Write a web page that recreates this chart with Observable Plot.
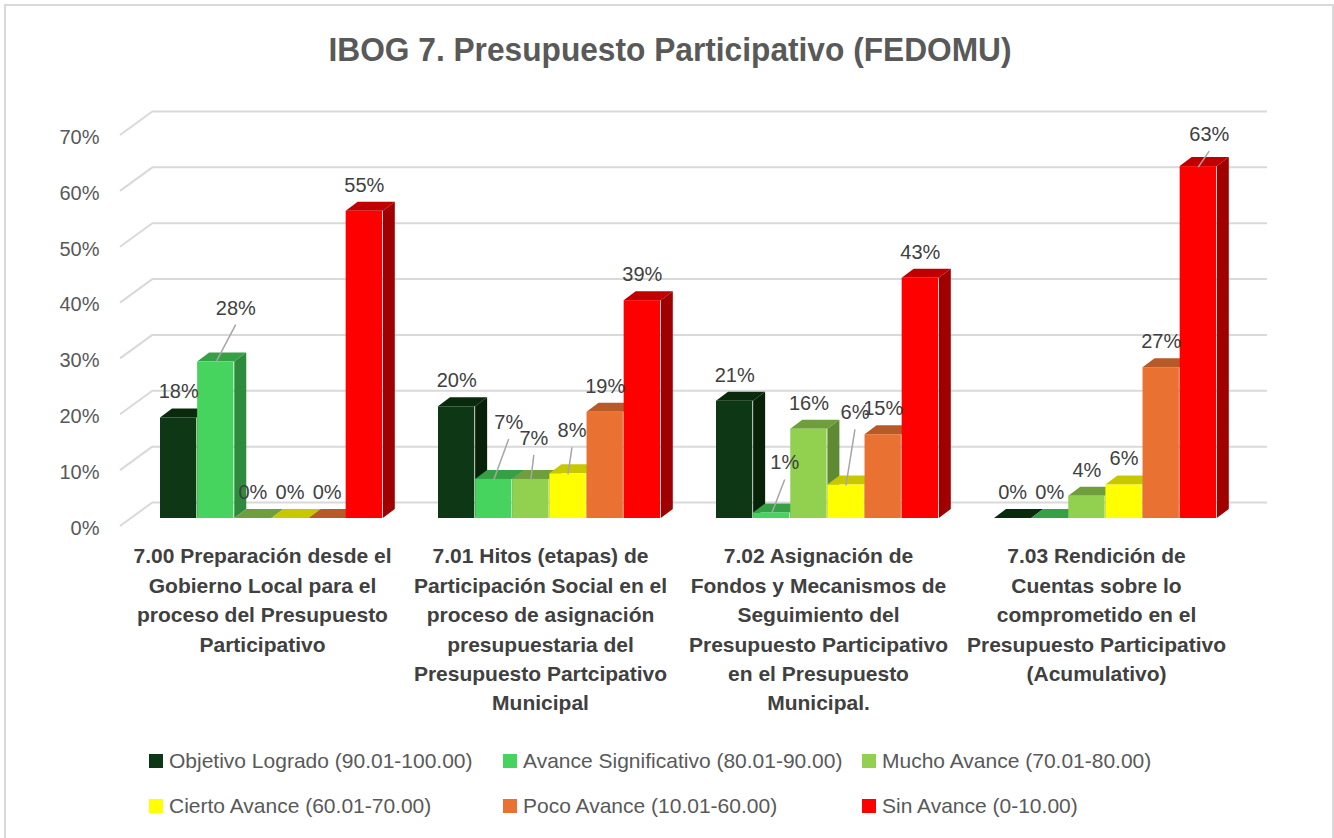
<!DOCTYPE html>
<html><head><meta charset="utf-8">
<script src="https://cdn.jsdelivr.net/npm/d3@7"></script>
<script src="https://cdn.jsdelivr.net/npm/@observablehq/plot@0.6"></script>
<style>
body{margin:0;background:#fff;}
#wrap{position:relative;width:1334px;height:838px;overflow:hidden;background:#fff;font-family:"Liberation Sans",Arial,sans-serif;}
#frame{position:absolute;left:4px;top:4px;width:1330px;height:850px;border:2px solid #d9d9d9;box-sizing:border-box;}
#chart{position:absolute;left:0;top:0;}
#title{position:absolute;top:30px;left:670px;white-space:nowrap;font-weight:bold;font-size:34px;color:#595959;transform-origin:center top;}
.lg{position:absolute;display:flex;align-items:center;white-space:nowrap;font-size:21px;color:#595959;}
.sw{width:14px;height:14px;margin-right:6px;}
</style></head><body>
<div id="wrap"><div id="frame"></div><div id="chart"></div><div id="title"></div><div id="legend"></div></div>
<script>
// ---- data ----
const TITLE = "IBOG 7. Presupuesto Participativo (FEDOMU)";
const categories = [
  "7.00 Preparación desde el\nGobierno Local para el\nproceso del Presupuesto\nParticipativo",
  "7.01 Hitos (etapas) de\nParticipación Social en el\nproceso de asignación\npresupuestaria del\nPresupuesto Partcipativo\nMunicipal",
  "7.02 Asignación de\nFondos y Mecanismos de\nSeguimiento del\nPresupuesto Participativo\nen el Presupuesto\nMunicipal.",
  "7.03 Rendición de\nCuentas sobre lo\ncomprometido en el\nPresupuesto Participativo\n(Acumulativo)"
];
const series = [
  "Objetivo Logrado (90.01-100.00)",
  "Avance Significativo (80.01-90.00)",
  "Mucho Avance (70.01-80.00)",
  "Cierto Avance (60.01-70.00)",
  "Poco Avance (10.01-60.00)",
  "Sin Avance (0-10.00)"
];
const objetivoLogrado     = [18, 20, 21, 0];
const avanceSignificativo = [28, 7, 1, 0];
const muchoAvance         = [0, 7, 16, 4];
const ciertoAvance        = [0, 8, 6, 6];
const pocoAvance          = [0, 19, 15, 27];
const sinAvance           = [55, 39, 43, 63];
const yTicks = [0, 10, 20, 30, 40, 50, 60, 70];

// ---- styles ----
const frontColors = ["#0e3815", "#47d45e", "#92d050", "#ffff00", "#e97132", "#ff0000"];
const topColors   = ["#0a2a0e", "#35a045", "#6f9e3c", "#c8c800", "#b85a28", "#c00000"];
const sideColors  = ["#082109", "#2e8b3d", "#5e8a33", "#b0b000", "#a04d22", "#a00000"];
// label nudges [category index, series index, dx, dy]
const labelNudges = [[0,1,20,-28],[1,1,15,-31],[1,2,3,-15],[1,3,4,-17],[2,1,13,-24],[2,3,9,-46],[3,5,11,-6]];

const seriesValues = [objetivoLogrado, avanceSignificativo, muchoAvance, ciertoAvance, pocoAvance, sinAvance];
const table = categories.flatMap((c, ci) => series.map((s, si) => ({cat: c, ci, series: s, si, value: seriesValues[si][ci]})));

// ---- layout ----
const W = 1334, H = 730;
const ML = 131, MR = 89, MT = 127, MB = 212;
const PAD_IN = 0.2, PAD_OUT = 0.1;
const step = (W - ML - MR) / (categories.length - PAD_IN + 2 * PAD_OUT);
const bw = step * (1 - PAD_IN);
const w = bw / series.length;
const DX = 12, DY = 9;
const LABEL_GAP = 26;

const isNudged = d => labelNudges.some(n => n[0] === d.ci && n[1] === d.si);

function walls(index, scales) {
  const g = d3.create("svg:g");
  for (const t of yTicks) {
    const y = scales.y(t);
    g.append("line").attr("x1", ML - 11).attr("y1", y + 8).attr("x2", ML + 22).attr("y2", y - 16)
      .attr("stroke", "#d9d9d9").attr("stroke-width", 2);
  }
  return g.node();
}

function depthFaces(index, scales) {
  const g = d3.create("svg:g");
  const y0 = scales.y(0);
  for (const d of table) {
    const x0 = scales.x(d.cat) + d.si * w, x1 = x0 + w, yt = scales.y(d.value);
    g.append("polygon").attr("points", [[x1, yt], [x1 + DX, yt - DY], [x1 + DX, y0 - DY], [x1, y0]].join(" "))
      .attr("fill", sideColors[d.si]);
    g.append("polygon").attr("points", [[x0, yt], [x1, yt], [x1 + DX, yt - DY], [x0 + DX, yt - DY]].join(" "))
      .attr("fill", topColors[d.si]);
  }
  return g.node();
}

function leaders(index, scales) {
  const g = d3.create("svg:g");
  for (const [ci, si, dx, dy] of labelNudges) {
    const cx = scales.x(categories[ci]) + (si + 0.5) * w;
    const yt = scales.y(seriesValues[si][ci]);
    const lx = cx + dx, ly = yt - LABEL_GAP + dy;
    g.append("line").attr("x1", lx).attr("y1", ly + 17).attr("x2", cx).attr("y2", yt + 1)
      .attr("stroke", "#a6a6a6").attr("stroke-width", 1.5);
  }
  return g.node();
}

const marks = [
  Plot.ruleY(yTicks, {stroke: "#d9d9d9", strokeWidth: 2, dx: 22, dy: -16}),
  walls,
  Plot.text(yTicks, {y: d => d, text: d => d + "%", frameAnchor: "left", textAnchor: "end", dx: -32, dy: 10, fontSize: 20, fill: "#595959"}),
  depthFaces,
];
series.forEach((s, si) => {
  marks.push(Plot.barY(table.filter(d => d.si === si), {x: "cat", y: "value", fill: frontColors[si], insetLeft: si * w, insetRight: (series.length - 1 - si) * w}));
});
series.forEach((s, si) => {
  marks.push(Plot.text(table.filter(d => d.si === si && !isNudged(d)), {x: "cat", y: "value", text: d => d.value + "%", dx: (si - 2.5) * w, dy: -LABEL_GAP, fontSize: 20, fill: "#404040"}));
});
marks.push(leaders);
for (const [ci, si, dx, dy] of labelNudges) {
  marks.push(Plot.text(table.filter(d => d.ci === ci && d.si === si), {x: "cat", y: "value", text: d => d.value + "%", dx: (si - 2.5) * w + dx, dy: -LABEL_GAP + dy, fontSize: 20, fill: "#404040"}));
}
marks.push(Plot.text(categories, {x: d => d, text: d => d, frameAnchor: "bottom", lineAnchor: "top", dx: -9, dy: 24, fontSize: 21, fontWeight: "bold", lineHeight: 1.4, fill: "#404040"}));

const chart = Plot.plot({
  width: W, height: H,
  marginLeft: ML, marginRight: MR, marginTop: MT, marginBottom: MB,
  x: {domain: categories, paddingInner: PAD_IN, paddingOuter: PAD_OUT, axis: null},
  y: {domain: [0, 70], axis: null},
  style: {fontFamily: "Liberation Sans, Arial, sans-serif", background: "transparent", overflow: "visible"},
  marks
});
document.getElementById("chart").appendChild(chart);

// title (fit to reference width)
const title = document.getElementById("title");
title.textContent = TITLE;
const tw = title.offsetWidth;
const k = 683 / tw;
title.style.transform = `translateX(-50%) scaleX(${k})`;

// legend
const legend = document.getElementById("legend");
const colX = [149, 503, 862], rowY = [761, 806];
series.forEach((s, i) => {
  const item = document.createElement("div");
  item.className = "lg";
  item.style.left = colX[i % 3] + "px";
  item.style.top = (rowY[Math.floor(i / 3)] - 13) + "px";
  item.style.height = "26px";
  const sw = document.createElement("div");
  sw.className = "sw"; sw.style.background = frontColors[i];
  item.appendChild(sw);
  item.appendChild(document.createTextNode(s));
  legend.appendChild(item);
});
</script>
</body></html>
